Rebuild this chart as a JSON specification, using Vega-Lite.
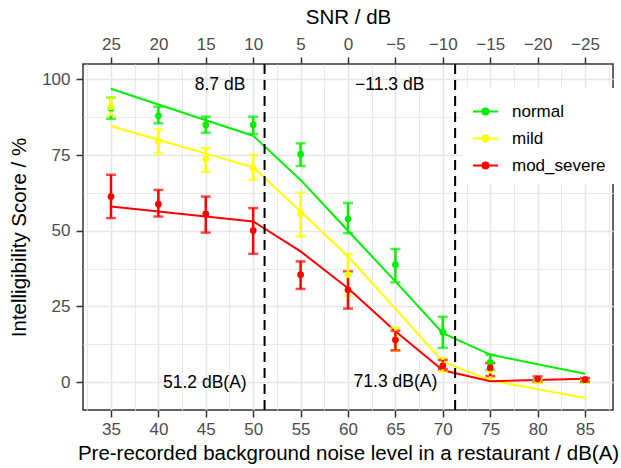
{
  "$schema": "https://vega.github.io/schema/vega-lite/v6.json",
  "width": 530,
  "height": 346,
  "autosize": {"type": "none"},
  "padding": {"left": 83, "top": 64, "right": 8, "bottom": 58},
  "background": "white",
  "config": {
    "view": {"stroke": "#333333", "strokeWidth": 1.5},
    "font": "Liberation Sans",
    "axis": {
      "labelFont": "Liberation Sans",
      "titleFont": "Liberation Sans",
      "labelFontSize": 17,
      "labelColor": "#4d4d4d",
      "titleFontSize": 20.5,
      "titleFontWeight": "normal",
      "titleColor": "black",
      "tickColor": "#333333",
      "tickWidth": 1.5,
      "tickSize": 7,
      "domain": false,
      "gridColor": "#e6e6e6"
    }
  },
  "datasets": {
    "fit": [
      {"noise": 35, "group": "normal", "fit": 96.9},
      {"noise": 40, "group": "normal", "fit": 91.7},
      {"noise": 45, "group": "normal", "fit": 86.5},
      {"noise": 50, "group": "normal", "fit": 81.4},
      {"noise": 55, "group": "normal", "fit": 66.8},
      {"noise": 60, "group": "normal", "fit": 50.0},
      {"noise": 65, "group": "normal", "fit": 33.3},
      {"noise": 70, "group": "normal", "fit": 16.2},
      {"noise": 75, "group": "normal", "fit": 9.1},
      {"noise": 80, "group": "normal", "fit": 5.9},
      {"noise": 85, "group": "normal", "fit": 2.8},
      {"noise": 35, "group": "mild", "fit": 84.6},
      {"noise": 40, "group": "mild", "fit": 80.1},
      {"noise": 45, "group": "mild", "fit": 75.5},
      {"noise": 50, "group": "mild", "fit": 71.0},
      {"noise": 55, "group": "mild", "fit": 56.4},
      {"noise": 60, "group": "mild", "fit": 41.5},
      {"noise": 65, "group": "mild", "fit": 24.3},
      {"noise": 70, "group": "mild", "fit": 6.8},
      {"noise": 75, "group": "mild", "fit": 0.6},
      {"noise": 80, "group": "mild", "fit": -2.3},
      {"noise": 85, "group": "mild", "fit": -5.2},
      {"noise": 35, "group": "mod_severe", "fit": 58.0},
      {"noise": 40, "group": "mod_severe", "fit": 56.4},
      {"noise": 45, "group": "mod_severe", "fit": 54.7},
      {"noise": 50, "group": "mod_severe", "fit": 53.1},
      {"noise": 55, "group": "mod_severe", "fit": 43.2},
      {"noise": 60, "group": "mod_severe", "fit": 31.0},
      {"noise": 65, "group": "mod_severe", "fit": 16.8},
      {"noise": 70, "group": "mod_severe", "fit": 3.9},
      {"noise": 75, "group": "mod_severe", "fit": 0.3},
      {"noise": 80, "group": "mod_severe", "fit": 0.7},
      {"noise": 85, "group": "mod_severe", "fit": 1.1}
    ],
    "obs": [
      {"noise": 35, "group": "normal", "mean": 90.5, "lo": 87, "hi": 94},
      {"noise": 40, "group": "normal", "mean": 88, "lo": 85.5, "hi": 91},
      {"noise": 45, "group": "normal", "mean": 85, "lo": 82.4, "hi": 87.7},
      {"noise": 50, "group": "normal", "mean": 85, "lo": 82, "hi": 87.7},
      {"noise": 55, "group": "normal", "mean": 75.3, "lo": 71.4, "hi": 78.9},
      {"noise": 60, "group": "normal", "mean": 53.9, "lo": 49.2, "hi": 59.2},
      {"noise": 65, "group": "normal", "mean": 38.8, "lo": 33, "hi": 44},
      {"noise": 70, "group": "normal", "mean": 16.5, "lo": 11.3, "hi": 21.6},
      {"noise": 75, "group": "normal", "mean": 6.5, "lo": 4, "hi": 9},
      {"noise": 80, "group": "normal", "mean": 0.5, "lo": 0, "hi": 1},
      {"noise": 85, "group": "normal", "mean": 0.5, "lo": 0, "hi": 1},
      {"noise": 35, "group": "mild", "mean": 91, "lo": 88, "hi": 94},
      {"noise": 40, "group": "mild", "mean": 79.7, "lo": 75.6, "hi": 83.6},
      {"noise": 45, "group": "mild", "mean": 73.8, "lo": 69.4, "hi": 77.3},
      {"noise": 50, "group": "mild", "mean": 70.7, "lo": 66.8, "hi": 75.1},
      {"noise": 55, "group": "mild", "mean": 55.6, "lo": 48.1, "hi": 62.6},
      {"noise": 60, "group": "mild", "mean": 35.5, "lo": 28.5, "hi": 42.3},
      {"noise": 65, "group": "mild", "mean": 14, "lo": 10.5, "hi": 18},
      {"noise": 70, "group": "mild", "mean": 5.5, "lo": 3.5, "hi": 8},
      {"noise": 75, "group": "mild", "mean": 4, "lo": 1.5, "hi": 6.5},
      {"noise": 80, "group": "mild", "mean": 0.3, "lo": 0, "hi": 0.6},
      {"noise": 85, "group": "mild", "mean": 0.5, "lo": 0, "hi": 1},
      {"noise": 35, "group": "mod_severe", "mean": 61.3, "lo": 54.2, "hi": 68.5},
      {"noise": 40, "group": "mod_severe", "mean": 58.8, "lo": 54.7, "hi": 63.5},
      {"noise": 45, "group": "mod_severe", "mean": 55.6, "lo": 49.4, "hi": 61.3},
      {"noise": 50, "group": "mod_severe", "mean": 50.1, "lo": 42.4, "hi": 57.5},
      {"noise": 55, "group": "mod_severe", "mean": 35.5, "lo": 30.8, "hi": 39.9},
      {"noise": 60, "group": "mod_severe", "mean": 30.5, "lo": 24.3, "hi": 36.6},
      {"noise": 65, "group": "mod_severe", "mean": 14, "lo": 10.5, "hi": 17},
      {"noise": 70, "group": "mod_severe", "mean": 5.4, "lo": 4.3, "hi": 7.3},
      {"noise": 75, "group": "mod_severe", "mean": 4.7, "lo": 2, "hi": 6.3},
      {"noise": 80, "group": "mod_severe", "mean": 1, "lo": 0.2, "hi": 1.9},
      {"noise": 85, "group": "mod_severe", "mean": 0.8, "lo": 0.2, "hi": 1.4}
    ],
    "breaks": [{"noise": 51.2}, {"noise": 71.3}],
    "notes": [
      {"noise": 46.5, "score": 98.2, "label": "8.7 dB"},
      {"noise": 64.4, "score": 98.0, "label": "−11.3 dB"},
      {"noise": 44.9, "score": -0.3, "label": "51.2 dB(A)"},
      {"noise": 65.0, "score": 0.0, "label": "71.3 dB(A)"}
    ]
  },
  "layer": [
    {
      "data": {"name": "fit"},
      "mark": {"type": "line", "strokeWidth": 2},
      "encoding": {
        "x": {
          "field": "noise", "type": "quantitative",
          "scale": {"domain": [32.05, 87.95], "nice": false, "zero": false},
          "axis": {
            "orient": "bottom",
            "title": "Pre-recorded background noise level in a restaurant / dB(A)",
            "values": [32.5, 35, 37.5, 40, 42.5, 45, 47.5, 50, 52.5, 55, 57.5, 60, 62.5, 65, 67.5, 70, 72.5, 75, 77.5, 80, 82.5, 85, 87.5],
            "labelExpr": "datum.value % 5 === 0 ? datum.label : ''",
            "tickOpacity": {"condition": {"test": "datum.value % 5 === 0", "value": 1}, "value": 0},
            "gridWidth": {"condition": {"test": "datum.value % 5 === 0", "value": 1.6}, "value": 0.9},
            "grid": true,
            "labelPadding": 4,
            "titlePadding": 6
          }
        },
        "y": {
          "field": "fit", "type": "quantitative",
          "scale": {"domain": [-9.2, 105.1], "nice": false, "zero": false},
          "axis": {
            "orient": "left",
            "title": "Intelligibility Score / %",
            "values": [0, 12.5, 25, 37.5, 50, 62.5, 75, 87.5, 100],
            "labelExpr": "datum.value % 25 === 0 ? datum.label : ''",
            "tickOpacity": {"condition": {"test": "datum.value % 25 === 0", "value": 1}, "value": 0},
            "gridWidth": {"condition": {"test": "datum.value % 25 === 0", "value": 1.6}, "value": 0.9},
            "grid": true,
            "labelPadding": 6,
            "titlePadding": 12
          }
        },
        "color": {
          "field": "group", "type": "nominal",
          "scale": {"domain": ["normal", "mild", "mod_severe"], "range": ["#00ee00", "#ffff00", "#ff0000"]},
          "legend": {
            "orient": "none",
            "legendX": 379,
            "legendY": 24,
            "title": null,
            "padding": 10,
            "fillColor": "white",
            "labelFont": "Liberation Sans",
            "labelFontSize": 17,
            "labelColor": "black",
            "symbolType": "M-1,0H1M-0.24,0A0.24,0.24 0 1,0 0.24,0A0.24,0.24 0 1,0 -0.24,0Z",
            "symbolSize": 625,
            "symbolStrokeWidth": 2,
            "labelOffset": 13,
            "rowPadding": 5,
            "encode": {
              "symbols": {
                "update": {
                  "fill": {"scale": "color", "field": "value"},
                  "stroke": {"scale": "color", "field": "value"},
                  "opacity": {"value": 1}
                }
              }
            }
          }
        }
      }
    },
    {
      "data": {"name": "obs"},
      "mark": {"type": "errorbar", "thickness": 2.5, "ticks": {"size": 10, "thickness": 2.5}},
      "encoding": {
        "x": {"field": "noise", "type": "quantitative", "scale": {"domain": [32.05, 87.95], "nice": false, "zero": false}, "axis": null},
        "y": {"field": "lo", "type": "quantitative", "scale": {"domain": [-9.2, 105.1], "nice": false, "zero": false}, "axis": null},
        "y2": {"field": "hi"},
        "color": {"field": "group", "type": "nominal", "legend": null}
      }
    },
    {
      "data": {"name": "obs"},
      "mark": {"type": "circle", "size": 45, "opacity": 1},
      "encoding": {
        "x": {"field": "noise", "type": "quantitative", "scale": {"domain": [32.05, 87.95], "nice": false, "zero": false}, "axis": null},
        "y": {"field": "mean", "type": "quantitative", "scale": {"domain": [-9.2, 105.1], "nice": false, "zero": false}, "axis": null},
        "color": {"field": "group", "type": "nominal", "legend": null}
      }
    },
    {
      "data": {"name": "breaks"},
      "mark": {"type": "rule", "strokeDash": [10, 6], "strokeWidth": 2, "color": "black"},
      "encoding": {
        "x": {"field": "noise", "type": "quantitative", "scale": {"domain": [32.05, 87.95], "nice": false, "zero": false}, "axis": null}
      }
    },
    {
      "data": {"name": "notes"},
      "mark": {"type": "text", "fontSize": 17.5, "font": "Liberation Sans", "color": "black", "align": "center", "baseline": "middle"},
      "encoding": {
        "x": {
          "field": "noise", "type": "quantitative",
          "scale": {"domain": [32.05, 87.95], "nice": false, "zero": false},
          "axis": {
            "orient": "top",
            "title": "SNR / dB",
            "values": [35, 40, 45, 50, 55, 60, 65, 70, 75, 80, 85],
            "labelExpr": "(60 - datum.value) < 0 ? '−' + format(datum.value - 60, 'd') : format(60 - datum.value, 'd')",
            "grid": false,
            "labelPadding": 4,
            "titlePadding": 8
          }
        },
        "y": {"field": "score", "type": "quantitative", "scale": {"domain": [-9.2, 105.1], "nice": false, "zero": false}, "axis": null},
        "text": {"field": "label"}
      }
    }
  ],
  "resolve": {"axis": {"x": "independent", "y": "independent"}}
}
